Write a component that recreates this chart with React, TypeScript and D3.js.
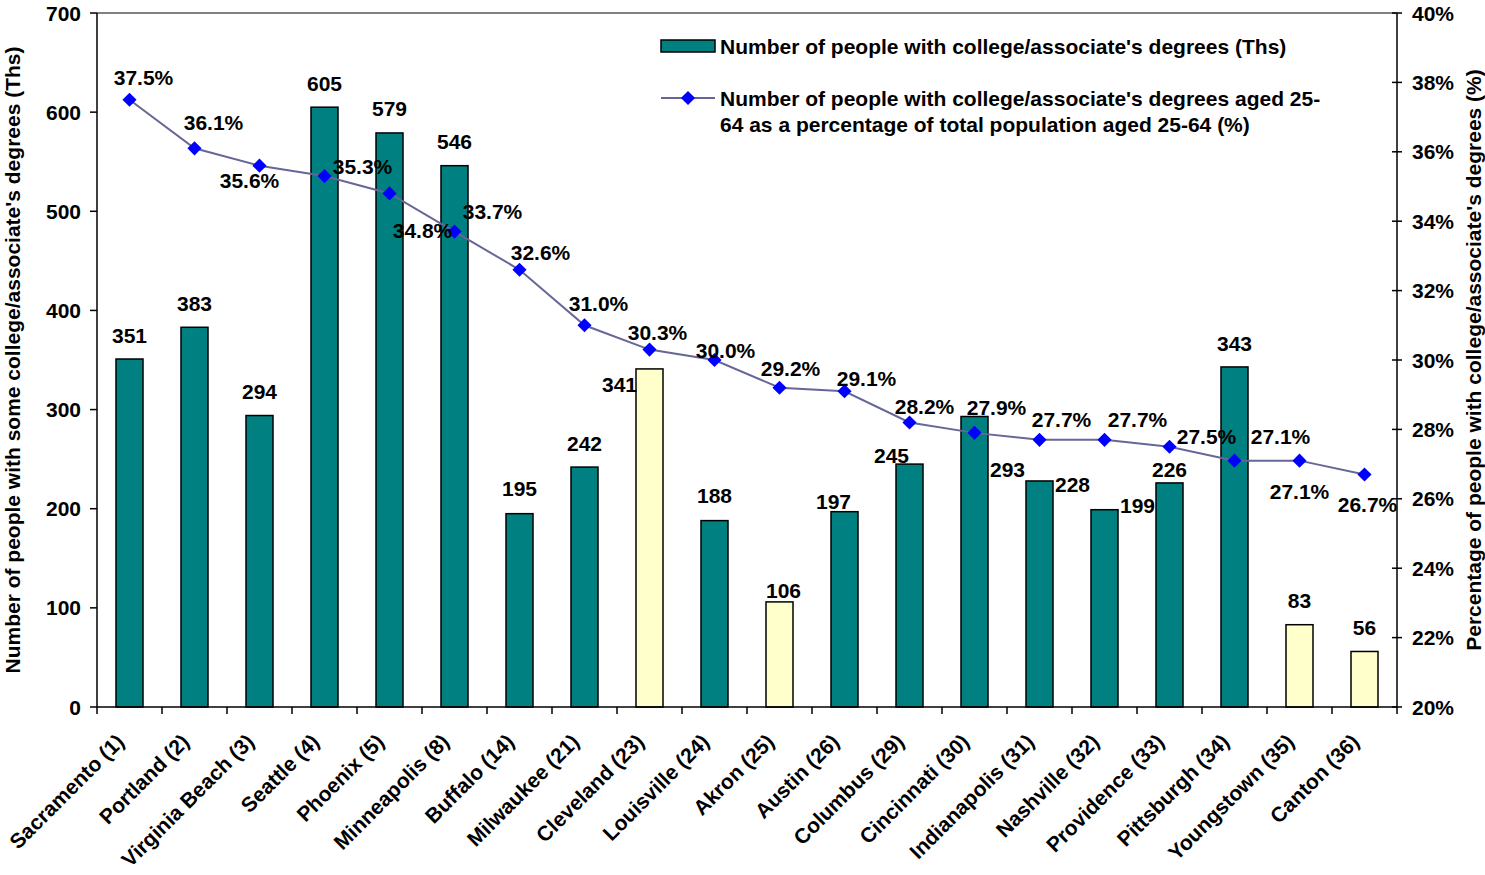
import { scaleBand, scaleLinear, line } from 'd3'

const cities = [
  'Sacramento (1)', 'Portland (2)', 'Virginia Beach (3)', 'Seattle (4)', 'Phoenix (5)',
  'Minneapolis (8)', 'Buffalo (14)', 'Milwaukee (21)', 'Cleveland (23)', 'Louisville (24)',
  'Akron (25)', 'Austin (26)', 'Columbus (29)', 'Cincinnati (30)', 'Indianapolis (31)',
  'Nashville (32)', 'Providence (33)', 'Pittsburgh (34)', 'Youngstown (35)', 'Canton (36)',
]
const degrees = [351, 383, 294, 605, 579, 546, 195, 242, 341, 188, 106, 197, 245, 293, 228, 199, 226, 343, 83, 56]
const highlighted = [false, false, false, false, false, false, false, false, true, false, true, false, false, false, false, false, false, false, true, true]
const shares = [37.5, 36.1, 35.6, 35.3, 34.8, 33.7, 32.6, 31.0, 30.3, 30.0, 29.2, 29.1, 28.2, 27.9, 27.7, 27.7, 27.5, 27.1, 27.1, 26.7]
const leftTicks = [0, 100, 200, 300, 400, 500, 600, 700]
const rightTicks = [20, 22, 24, 26, 28, 30, 32, 34, 36, 38, 40]

// hand placed label offsets (Excel style), relative to bar top / marker
const barLabelOffsets: [number, number][] = [
  [0, -24], [0, -24], [0, -24], [0, -24], [0, -25], [0, -24], [0, -25], [0, -24], [-30, 16], [0, -25],
  [4, -11], [-11, -10], [-18, -9], [33, 53], [33, 3], [33, -4], [0, -13], [0, -24], [0, -24], [0, -24],
]
const pctLabelOffsets: [number, number][] = [
  [14, -22], [19, -26], [-10, 15], [38, -10], [33, 37], [38, -20], [21, -17], [14, -22], [8, -17], [11, -10],
  [11, -19], [22, -13], [15, -16], [22, -25], [22, -20], [33, -20], [37, -10], [46, -24], [0, 31], [3, 30],
]

const W = 1485
const H = 875
const left = 97
const right = 1397
const top = 13
const bottom = 707
const font = '"Liberation Sans", Arial, sans-serif'
const fs = 21

export default function App() {
  const x = scaleBand<number>().domain(cities.map((_, i) => i)).range([left, right]).paddingInner(0).paddingOuter(0)
  const y = scaleLinear().domain([0, 700]).range([bottom, top])
  const y2 = scaleLinear().domain([20, 40]).range([bottom, top])
  const barW = 27
  const cx = (i: number) => (x(i) ?? 0) + x.bandwidth() / 2
  const path = line<number>().x((_, i) => cx(i)).y((d) => y2(d))(shares) ?? ''

  return (
    <svg width={W} height={H} style={{ position: 'absolute', left: 0, top: 0, fontFamily: font }}>
      <rect x={0} y={0} width={W} height={H} fill="#fff" />
      <line x1={left} y1={top} x2={right} y2={top} stroke="#808080" strokeWidth={2} />

      {degrees.map((d, i) => (
        <rect key={`b${i}`} x={cx(i) - barW / 2} y={y(d)} width={barW} height={bottom - y(d)}
          fill={highlighted[i] ? '#FFFFCC' : '#008080'} stroke="#000" strokeWidth={1.5} />
      ))}

      {/* left axis */}
      <line x1={left} y1={top} x2={left} y2={bottom} stroke="#000" strokeWidth={1.5} />
      {leftTicks.map((t) => (
        <g key={`l${t}`}>
          <line x1={left - 7} x2={left} y1={y(t)} y2={y(t)} stroke="#000" strokeWidth={1.5} />
          <text x={left - 16} y={y(t)} dy="0.36em" textAnchor="end" fontSize={fs} fontWeight="bold">{t}</text>
        </g>
      ))}
      {/* right axis */}
      <line x1={right} y1={top} x2={right} y2={bottom} stroke="#000" strokeWidth={1.5} />
      {rightTicks.map((t) => (
        <g key={`r${t}`}>
          <line x1={right - 5} x2={right + 5} y1={y2(t)} y2={y2(t)} stroke="#000" strokeWidth={1.5} />
          <text x={right + 15} y={y2(t)} dy="0.36em" fontSize={fs} fontWeight="bold">{t}%</text>
        </g>
      ))}
      {/* x axis */}
      <line x1={left} y1={bottom} x2={right} y2={bottom} stroke="#000" strokeWidth={1.5} />
      {cities.map((_, i) => (
        <line key={`t${i}`} x1={x(i)} x2={x(i)} y1={bottom} y2={bottom + 7} stroke="#000" strokeWidth={1.5} />
      ))}
      <line x1={right} x2={right} y1={bottom} y2={bottom + 7} stroke="#000" strokeWidth={1.5} />
      {cities.map((c, i) => (
        <text key={`c${i}`} transform={`translate(${cx(i) - 4},${bottom + 36}) rotate(-45)`} textAnchor="end"
          fontSize={fs} fontWeight="bold">{c}</text>
      ))}

      {/* line series */}
      <path d={path} fill="none" stroke="#666699" strokeWidth={2} />
      {shares.map((s, i) => (
        <rect key={`m${i}`} x={cx(i) - 5} y={y2(s) - 5} width={10} height={10} fill="#0000FF"
          transform={`rotate(45 ${cx(i)} ${y2(s)})`} />
      ))}

      {/* bar labels */}
      {degrees.map((d, i) => (
        <text key={`bl${i}`} x={cx(i) + barLabelOffsets[i][0]} y={y(d) + barLabelOffsets[i][1]} dy="0.36em"
          textAnchor="middle" fontSize={fs} fontWeight="bold">{d}</text>
      ))}
      {shares.map((s, i) => (
        <text key={`pl${i}`} x={cx(i) + pctLabelOffsets[i][0]} y={y2(s) + pctLabelOffsets[i][1]} dy="0.36em"
          textAnchor="middle" fontSize={fs} fontWeight="bold">{s.toFixed(1)}%</text>
      ))}

      {/* axis titles */}
      <text transform={`translate(20,${(top + bottom) / 2}) rotate(-90)`} textAnchor="middle" fontSize={fs} fontWeight="bold">
        Number of people with some college/associate's degrees (Ths)
      </text>
      <text transform={`translate(1481,${(top + bottom) / 2}) rotate(-90)`} textAnchor="middle" fontSize={fs} fontWeight="bold">
        Percentage of people with college/associate's degrees (%)
      </text>

      {/* legend */}
      <rect x={661} y={40} width={54} height={12} fill="#008080" stroke="#000" strokeWidth={1.5} />
      <text x={720} y={46} dy="0.36em" fontSize={fs} fontWeight="bold">Number of people with college/associate's degrees (Ths)</text>
      <line x1={661} x2={715} y1={98} y2={98} stroke="#666699" strokeWidth={2} />
      <rect x={683} y={93} width={10} height={10} fill="#0000FF" transform="rotate(45 688 98)" />
      <text x={720} y={98} dy="0.36em" fontSize={fs} fontWeight="bold">Number of people with college/associate's degrees aged 25-</text>
      <text x={720} y={124} dy="0.36em" fontSize={fs} fontWeight="bold">64 as a percentage of total population aged 25-64 (%)</text>
    </svg>
  )
}
